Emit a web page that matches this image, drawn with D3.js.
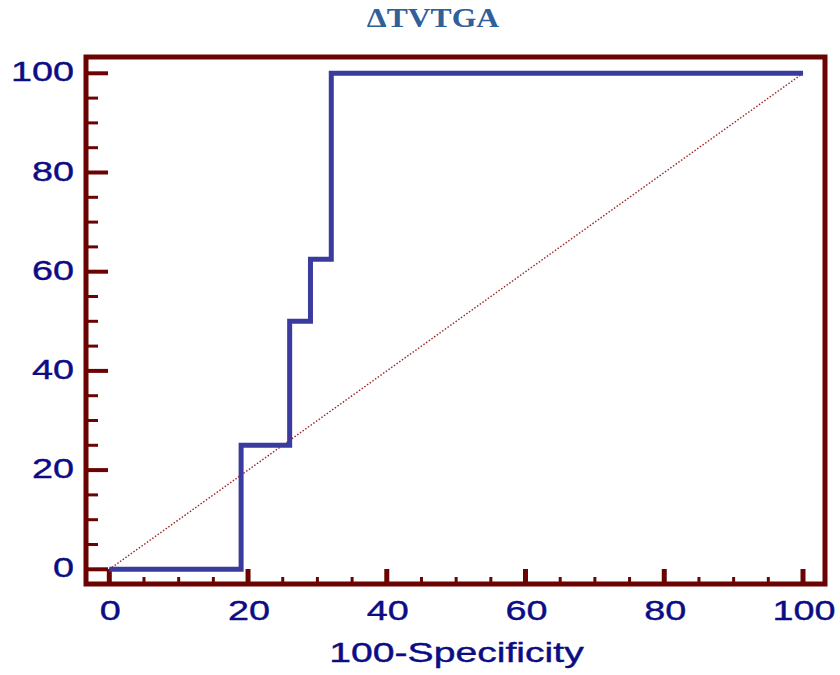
<!DOCTYPE html>
<html>
<head>
<meta charset="utf-8">
<script src="https://cdn.jsdelivr.net/npm/d3@7"></script>
<style>
body { margin: 0; background: #fff; }
</style>
</head>
<body>
<div id="chart"></div>
<script>
// data
var title = "ΔTVTGA";
var xTitle = "100-Specificity";
var rocX = [0, 19, 19, 26, 26, 29, 29, 32, 32, 100];
var rocY = [0, 0, 25, 25, 50, 50, 62.5, 62.5, 100, 100];
var diagX = [0, 100];
var diagY = [0, 100];
var tickLabels = [0, 20, 40, 60, 80, 100];

var totalWidth = 840, totalHeight = 675;
var plot = {left: 109.3, right: 803, top: 73.3, bottom: 569.3};
var frame = {left: 86, right: 825, top: 57, bottom: 584};
var frameColor = "#6c0303", labelColor = "#0c0c84";

var svg = d3.select("#chart").append("svg")
    .attr("width", totalWidth)
    .attr("height", totalHeight);

var x = d3.scaleLinear().domain([0, 100]).range([plot.left, plot.right]);
var y = d3.scaleLinear().domain([0, 100]).range([plot.bottom, plot.top]);

var minorTicks = d3.range(0, 101, 5).filter(function(v){ return tickLabels.indexOf(v) < 0; });

// stretched text, the original is wide
function stretched(x0, y0, txt, size, sx, anchor, family, weight, color) {
    return svg.append("text")
        .attr("transform", "translate(" + x0 + "," + y0 + ") scale(" + sx + ",1)")
        .attr("text-anchor", anchor)
        .style("font-family", family)
        .style("font-size", size + "px")
        .style("font-weight", weight)
        .style("fill", color)
        .text(txt);
}

// y ticks, drawn inward from the left frame
svg.append("g").selectAll("line.ymajor")
    .data(tickLabels).enter().append("line")
    .attr("x1", frame.left).attr("x2", frame.left + 22)
    .attr("y1", function(d){ return y(d); }).attr("y2", function(d){ return y(d); })
    .attr("stroke", frameColor).attr("stroke-width", 4);
svg.append("g").selectAll("line.yminor")
    .data(minorTicks).enter().append("line")
    .attr("x1", frame.left).attr("x2", frame.left + 12)
    .attr("y1", function(d){ return y(d); }).attr("y2", function(d){ return y(d); })
    .attr("stroke", frameColor).attr("stroke-width", 3);

// x ticks, upward from the bottom frame
svg.append("g").selectAll("line.xmajor")
    .data(tickLabels).enter().append("line")
    .attr("y1", frame.bottom).attr("y2", frame.bottom - 15)
    .attr("x1", function(d){ return x(d); }).attr("x2", function(d){ return x(d); })
    .attr("stroke", frameColor).attr("stroke-width", 5);
svg.append("g").selectAll("line.xminor")
    .data(minorTicks).enter().append("line")
    .attr("y1", frame.bottom).attr("y2", frame.bottom - 7)
    .attr("x1", function(d){ return x(d); }).attr("x2", function(d){ return x(d); })
    .attr("stroke", frameColor).attr("stroke-width", 3);

// frame
svg.append("rect")
    .attr("x", frame.left).attr("y", frame.top)
    .attr("width", frame.right - frame.left)
    .attr("height", frame.bottom - frame.top)
    .attr("fill", "none")
    .attr("stroke", frameColor)
    .attr("stroke-width", 5);

// diagonal reference line
var line = d3.line()
    .x(function(d){ return x(d[0]); })
    .y(function(d){ return y(d[1]); });

svg.append("path")
    .attr("d", line(d3.zip(diagX, diagY)))
    .attr("fill", "none")
    .attr("stroke", "#9b2424")
    .attr("stroke-width", 1.4)
    .attr("stroke-dasharray", "1.5,1.8");

// ROC curve
svg.append("path")
    .attr("d", line(d3.zip(rocX, rocY)))
    .attr("fill", "none")
    .attr("stroke", "#3a3b9e")
    .attr("stroke-width", 5)
    .attr("stroke-linejoin", "miter");

// tick labels
var labelFont = "'Liberation Sans', Arial, sans-serif";
tickLabels.forEach(function(v){
    stretched(74, y(v) + 8, v, 28, 1.35, "end", labelFont, "normal", labelColor)
        .style("stroke", labelColor).style("stroke-width", 0.4);
    stretched(x(v) + 1, 620, v, 28, 1.35, "middle", labelFont, "normal", labelColor)
        .style("stroke", labelColor).style("stroke-width", 0.4);
});

// axis title and chart title
stretched(456.5, 662, xTitle, 27, 1.45, "middle", labelFont, "normal", labelColor)
    .style("stroke", labelColor).style("stroke-width", 0.4);
stretched(433, 27, title, 28, 1.13, "middle", "'Liberation Serif', 'Times New Roman', serif", "bold", "#30609a");
</script>
</body>
</html>
